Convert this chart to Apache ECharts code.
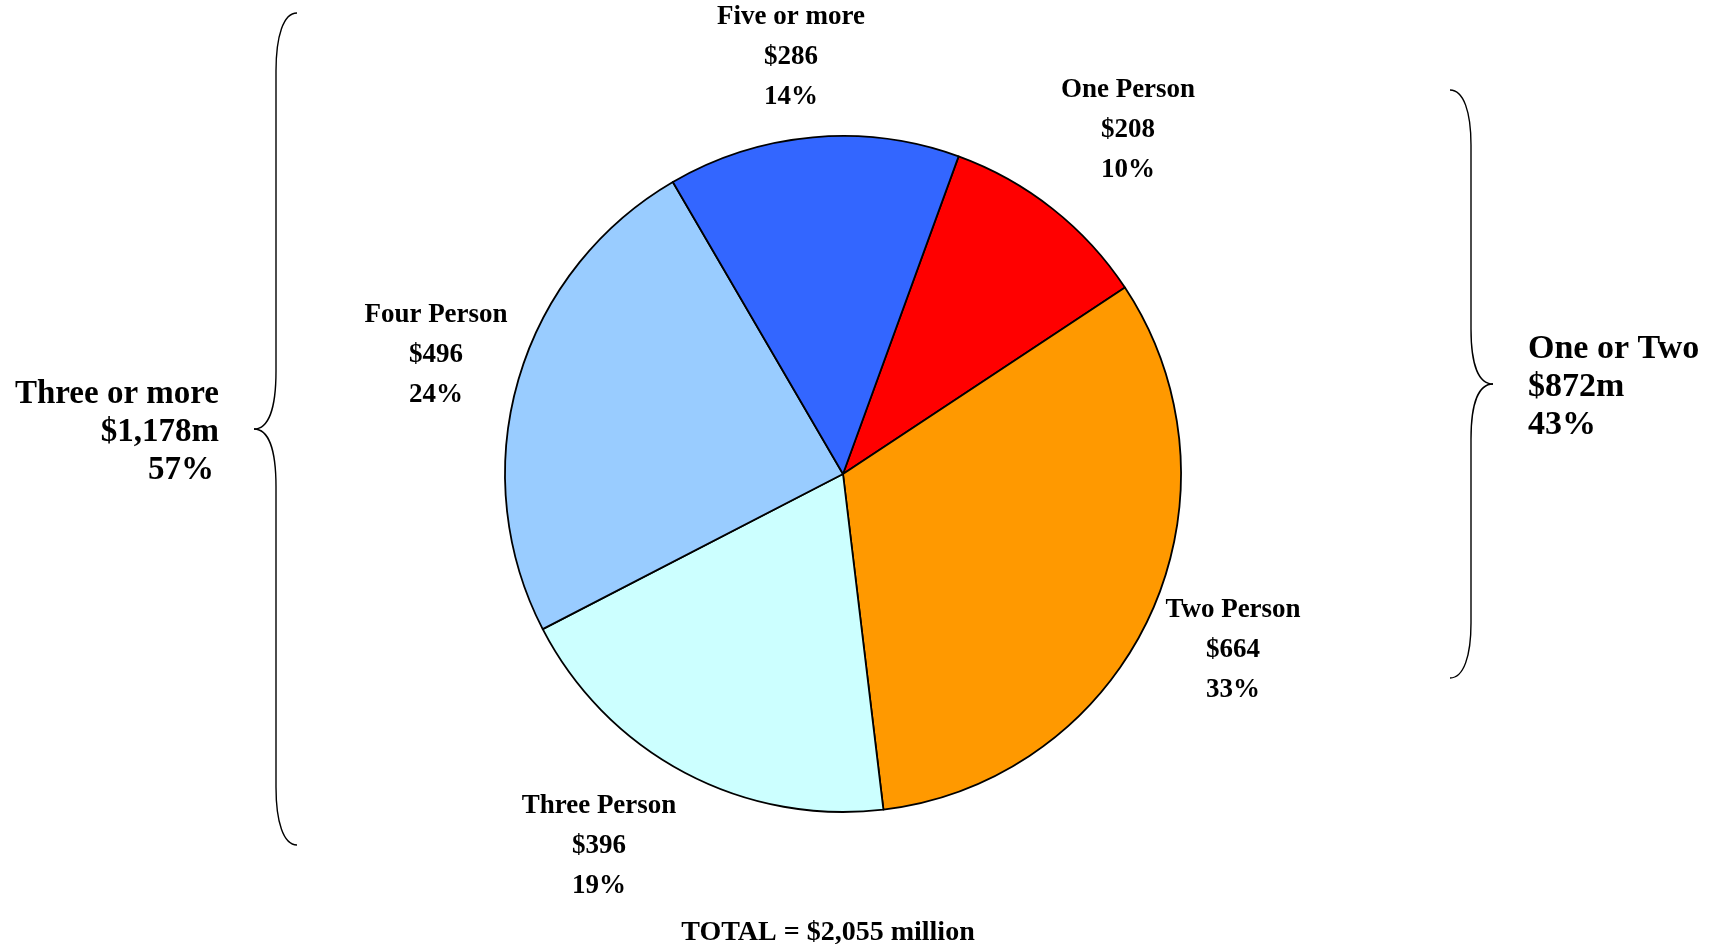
<!DOCTYPE html>
<html>
<head>
<meta charset="utf-8">
<script src="https://cdn.jsdelivr.net/npm/echarts@6/dist/echarts.min.js"></script>
<style>
  html, body { margin: 0; padding: 0; background: #ffffff; }
  #chart { width: 1716px; height: 944px; }
</style>
</head>
<body>
<div id="chart"></div>
<script>
// Household spending by household size ($ millions)
const categories = ['One Person', 'Two Person', 'Three Person', 'Four Person', 'Five or more'];
const spending = [208, 664, 396, 496, 286];
const sliceColors = ['#FF0000', '#FF9900', '#CCFFFF', '#99CCFF', '#3366FF'];

// Grouped totals shown beside the braces
const groupNames = ['One or Two', 'Three or more'];
const groupMembers = [[0, 1], [2, 3, 4]];
const totalText = 'TOTAL = $2,055 million';

// Where each slice's three-line label sits (centre of its middle line)
const labelAnchors = [[1128, 130], [1233, 650], [599, 846], [436, 355], [791, 57]];

const FONT = '"Liberation Serif", "Times New Roman", serif';
const sum = spending.reduce((a, b) => a + b, 0);
const money = v => '$' + v.toLocaleString('en-US');

const groupSums = groupMembers.map(ids => ids.reduce((a, i) => a + spending[i], 0));
const groupPct = groupSums.map(v => Math.round(v / sum * 100));

// A curly brace built from bezier curves and straight segments.
// tipX: x of the two ends, spineX: x of the vertical run, pointX: x of the middle point.
function brace(tipX, spineX, pointX, top, mid, bottom, endBend, midBend) {
  const style = { stroke: '#000', lineWidth: 1.4, fill: 'none' };
  const curve = (x1, y1, cx1, cy1, cx2, cy2, x2, y2) => ({
    type: 'bezierCurve', silent: true,
    shape: { x1, y1, cpx1: cx1, cpy1: cy1, cpx2: cx2, cpy2: cy2, x2, y2 },
    style
  });
  const line = (x1, y1, x2, y2) => ({ type: 'line', silent: true, shape: { x1, y1, x2, y2 }, style });
  const t1 = top + endBend, b1 = bottom - endBend;
  const m1 = mid - midBend, m2 = mid + midBend;
  return [
    curve(tipX, top, spineX + (tipX - spineX) * 0.35, top, spineX, top + endBend * 0.4, spineX, t1),
    line(spineX, t1, spineX, m1),
    curve(spineX, m1, spineX, mid - midBend * 0.35, spineX + (pointX - spineX) * 0.35, mid, pointX, mid),
    curve(pointX, mid, spineX + (pointX - spineX) * 0.35, mid, spineX, mid + midBend * 0.35, spineX, m2),
    line(spineX, m2, spineX, b1),
    curve(spineX, b1, spineX, bottom - endBend * 0.4, spineX + (tipX - spineX) * 0.35, bottom, tipX, bottom)
  ];
}

const chart = echarts.init(document.getElementById('chart'), null, { renderer: 'canvas' });

const bigText = { fontFamily: FONT, fontWeight: 'bold', fontSize: 34, fill: '#000' };
const bigLabel = (x, y, text, align, size) => ({
  type: 'text', x, y, silent: true,
  style: Object.assign({}, bigText, { text, align, verticalAlign: 'middle', fontSize: size || bigText.fontSize })
});

chart.setOption({
  backgroundColor: '#ffffff',
  animation: false,
  series: [{
    type: 'pie',
    center: [843, 474],
    radius: 338,
    startAngle: 70,
    clockwise: true,
    percentPrecision: 0,
    avoidLabelOverlap: false,
    silent: true,
    itemStyle: { borderColor: '#000', borderWidth: 1.8 },
    label: {
      show: true,
      position: 'outside',
      color: '#000',
      fontFamily: FONT,
      fontWeight: 'bold',
      fontSize: 27,
      lineHeight: 40,
      align: 'center',
      formatter: p => p.name + '\n' + money(p.value) + '\n' + p.percent + '%'
    },
    labelLine: { show: false },
    labelLayout: p => ({
      x: labelAnchors[p.dataIndex][0],
      y: labelAnchors[p.dataIndex][1],
      align: 'center',
      verticalAlign: 'middle'
    }),
    data: categories.map((name, i) => ({
      name: name,
      value: spending[i],
      itemStyle: { color: sliceColors[i] }
    }))
  }],
  graphic: [].concat(
    brace(297, 276, 254, 13, 429, 845, 58, 58),
    brace(1450, 1471, 1493, 90, 384, 678, 55, 55),
    [
      bigLabel(219, 394, groupNames[1], 'right', 33),
      bigLabel(219, 432, money(groupSums[1]) + 'm', 'right', 33),
      bigLabel(214, 470, groupPct[1] + '%', 'right', 33),
      bigLabel(1528, 349, groupNames[0], 'left'),
      bigLabel(1528, 387, money(groupSums[0]) + 'm', 'left'),
      bigLabel(1528, 425, groupPct[0] + '%', 'left'),
      {
        type: 'text', x: 828, y: 933, silent: true,
        style: { text: totalText, align: 'center', verticalAlign: 'middle', fontFamily: FONT, fontWeight: 'bold', fontSize: 28, fill: '#000' }
      }
    ]
  )
});
</script>
</body>
</html>
